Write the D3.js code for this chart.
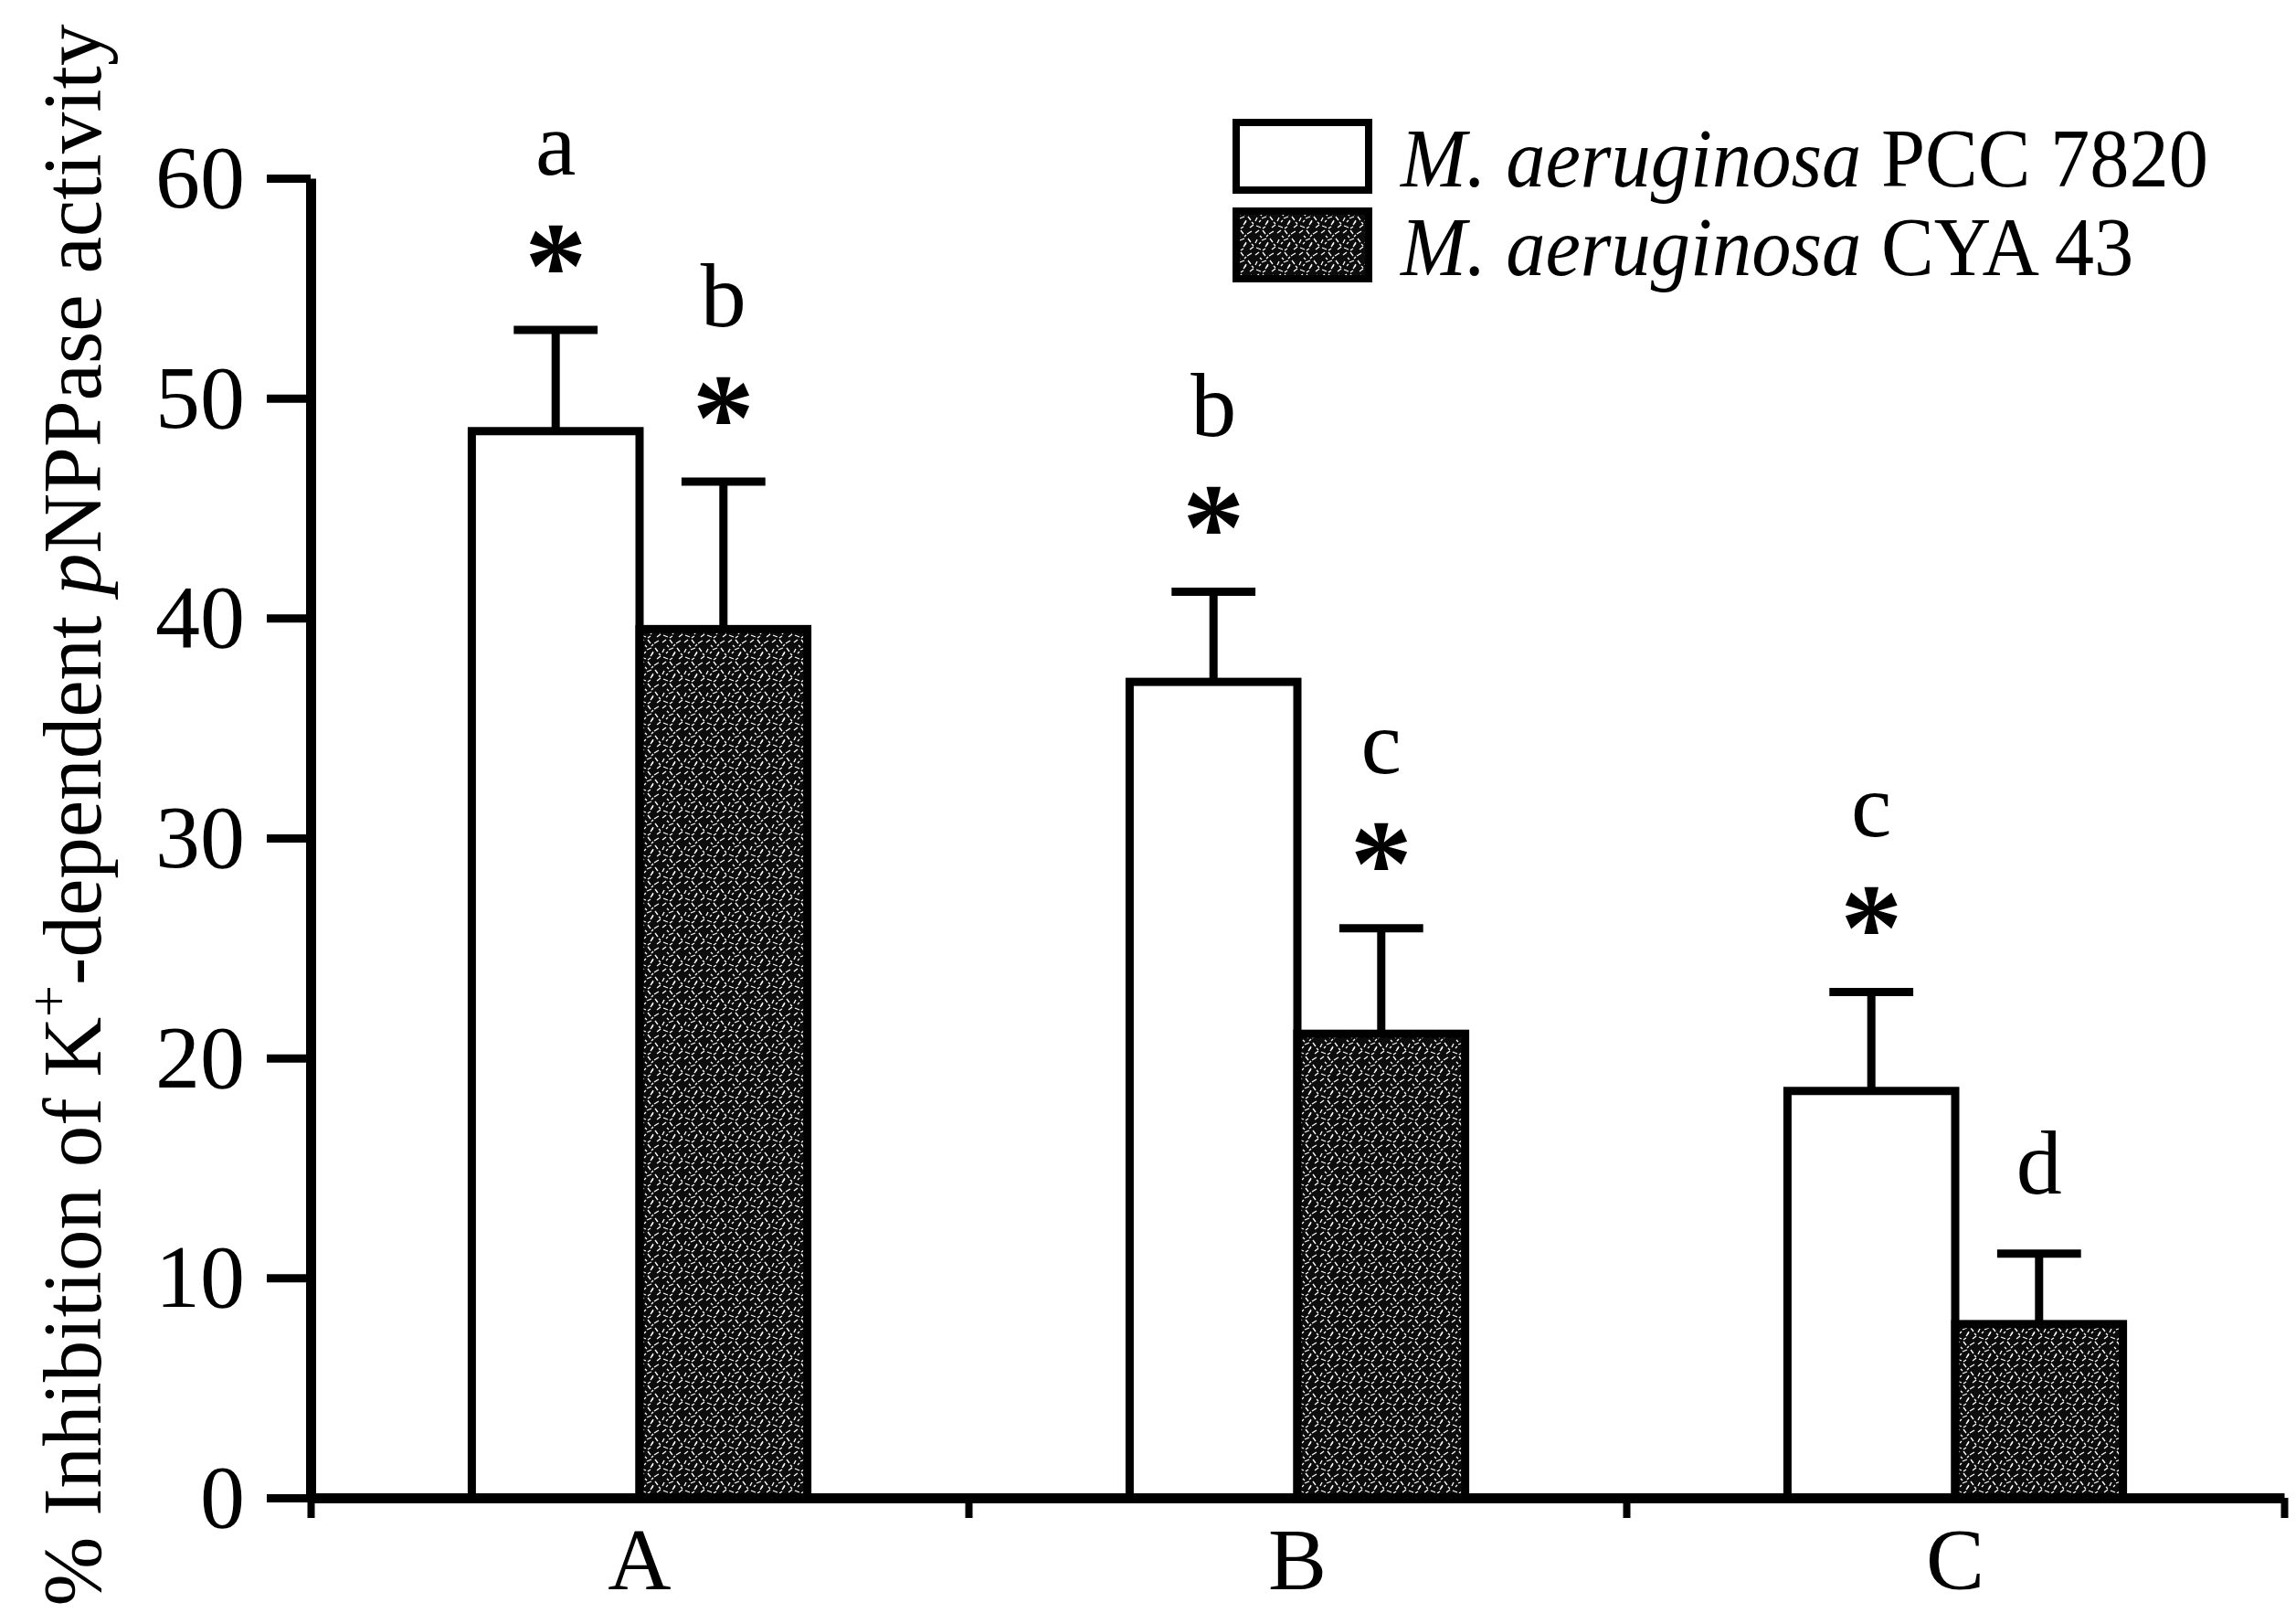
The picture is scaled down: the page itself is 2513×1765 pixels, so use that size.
<!DOCTYPE html>
<html>
<head>
<meta charset="utf-8">
<script src="https://cdn.jsdelivr.net/npm/d3@7"></script>
<style>
    body { margin: 0; background: #fff; }
    svg { display: block; }
    text { font-family: "Liberation Serif", "Times New Roman", serif; fill: #000; }
    .axis .domain, .axis line { stroke: #000; }
</style>
</head>
<body>
<div class="graph"></div>
<script>
// values
var groups = ["A", "B", "C"];
var seriesNames = ["PCC 7820", "CYA 43"];
var pccValues = [48.5, 37.1, 18.5];
var pccErrors = [4.6, 4.1, 4.5];
var cyaValues = [39.5, 21.1, 7.9];
var cyaErrors = [6.7, 4.8, 3.2];
var pccLetters = ["a", "b", "c"];
var cyaLetters = ["b", "c", "d"];
var pccStars = [true, true, true];
var cyaStars = [true, true, false];
var yTicks = [0, 10, 20, 30, 40, 50, 60];

var margin = {top: 195, right: 13, bottom: 126, left: 340},
    W = 2513, H = 1765,
    width = W - margin.left - margin.right,
    height = H - margin.top - margin.bottom;

var root = d3.select(".graph").append("svg")
    .attr("width", W)
    .attr("height", H);

root.append("rect").attr("width", W).attr("height", H).attr("fill", "#fff");

// speckled dark fill used for the CYA 43 bars
var defs = root.append("defs");
var pat = defs.append("pattern")
    .attr("id", "speckle")
    .attr("patternUnits", "userSpaceOnUse")
    .attr("width", 24).attr("height", 24);
pat.append("rect").attr("width", 24).attr("height", 24).attr("fill", "#0c0c0c");
pat.append("path")
    .attr("d", "M1,4l4,-3M9,1l3,4M16,5l5,-3M3,11l-2,4M8,12l5,-2M17,10l3,4M2,20l5,2M12,19l3,-4M19,22l4,-3M6,7l2,2M13,8l2,-2M21,16l2,2M9,23l3,-2M15,14l-2,3M5,16l2,-2")
    .attr("stroke", "#fff")
    .attr("stroke-width", 1.3)
    .attr("fill", "none");

var svg = root.append("g")
    .attr("transform", "translate(" + margin.left + "," + margin.top + ")");

var x = d3.scaleBand().domain(groups).range([0, width]).padding(0);
var barW = x.bandwidth() * 0.255;
var xs = d3.scaleBand().domain(seriesNames)
    .range([x.bandwidth() / 2 - barW, x.bandwidth() / 2 + barW]);
var y = d3.scaleLinear().domain([0, 60]).range([height, 0]);

var rows = [];
groups.forEach(function(g, i) {
    rows.push({group: g, series: seriesNames[0], value: pccValues[i], err: pccErrors[i],
               letter: pccLetters[i], star: pccStars[i]});
    rows.push({group: g, series: seriesNames[1], value: cyaValues[i], err: cyaErrors[i],
               letter: cyaLetters[i], star: cyaStars[i]});
});

function fillFor(s) { return s === seriesNames[0] ? "#fff" : "url(#speckle)"; }

var bar = svg.selectAll(".bar")
    .data(rows)
    .enter().append("g")
    .attr("class", "bar")
    .attr("transform", function(d) { return "translate(" + (x(d.group) + xs(d.series)) + ",0)"; });

// error bars (upper only)
bar.append("line")
    .attr("x1", xs.bandwidth() / 2).attr("x2", xs.bandwidth() / 2)
    .attr("y1", function(d) { return y(d.value); })
    .attr("y2", function(d) { return y(d.value + d.err); })
    .attr("stroke", "#000").attr("stroke-width", 9);
bar.append("line")
    .attr("x1", xs.bandwidth() / 2 - xs.bandwidth() * 0.25)
    .attr("x2", xs.bandwidth() / 2 + xs.bandwidth() * 0.25)
    .attr("y1", function(d) { return y(d.value + d.err); })
    .attr("y2", function(d) { return y(d.value + d.err); })
    .attr("stroke", "#000").attr("stroke-width", 9);

bar.append("rect")
    .attr("x", 0)
    .attr("y", function(d) { return y(d.value); })
    .attr("width", xs.bandwidth())
    .attr("height", function(d) { return height - y(d.value); })
    .attr("fill", function(d) { return fillFor(d.series); })
    .attr("stroke", "#000")
    .attr("stroke-width", 9);

// significance marks
var starSize = 136;
bar.filter(function(d) { return d.star; }).append("text")
    .attr("x", xs.bandwidth() / 2)
    .attr("y", function(d) { return y(d.value + d.err) - 88 + starSize * 0.46; })
    .attr("text-anchor", "middle")
    .attr("font-size", starSize)
    .attr("font-weight", "bold")
    .text("*");

bar.append("text")
    .attr("x", xs.bandwidth() / 2)
    .attr("y", function(d) { return y(d.value + d.err) - (d.star ? 170 : 66); })
    .attr("text-anchor", "middle")
    .attr("font-size", 100)
    .text(function(d) { return d.letter; });

// axes
var yAxis = svg.append("g")
    .attr("class", "axis y")
    .call(d3.axisLeft(y).tickValues(yTicks).tickSize(48).tickSizeOuter(0).tickPadding(24));
yAxis.select(".domain").attr("stroke-width", 11);
yAxis.selectAll("line").attr("stroke-width", 9);
yAxis.selectAll("text").attr("font-size", 98).attr("font-family", null);

var bounds = d3.scaleLinear().domain([0, groups.length]).range([0, width]);
var xAxis = svg.append("g")
    .attr("class", "axis x")
    .attr("transform", "translate(0," + height + ")")
    .call(d3.axisBottom(bounds).tickValues(d3.range(groups.length + 1)).tickFormat("")
        .tickSize(22).tickSizeOuter(0));
xAxis.select(".domain").attr("stroke-width", 11);
xAxis.selectAll("line").attr("stroke-width", 8);

var xLabels = svg.append("g")
    .attr("class", "axis labels")
    .attr("transform", "translate(0," + height + ")")
    .call(d3.axisBottom(x).tickSize(0).tickPadding(32));
xLabels.select(".domain").remove();
xLabels.selectAll("text").attr("font-size", 96).attr("font-family", null);

// y axis title
var yTitle = root.append("text")
    .attr("transform", "translate(110," + 892 + ")rotate(-90)")
    .attr("text-anchor", "middle")
    .attr("font-size", 91);
yTitle.append("tspan").text("% Inhibition of K");
yTitle.append("tspan").attr("font-size", 62).attr("dy", -36).text("+");
yTitle.append("tspan").attr("dy", 36).text("-dependent ");
yTitle.append("tspan").attr("font-style", "italic").text("p");
yTitle.append("tspan").text("NPPase activity");

// legend
var legend = root.append("g")
    .attr("transform", "translate(1349,130)");
var item = legend.selectAll(".item")
    .data(seriesNames)
    .enter().append("g")
    .attr("class", "item")
    .attr("transform", function(d, i) { return "translate(0," + (i * 97) + ")"; });
item.append("rect")
    .attr("x", 4).attr("y", 4)
    .attr("width", 145).attr("height", 74)
    .attr("fill", fillFor)
    .attr("stroke", "#000")
    .attr("stroke-width", 8);
var itemText = item.append("text")
    .attr("transform", "translate(184,74) scale(0.94,1)")
    .attr("font-size", 92);
itemText.append("tspan").attr("font-style", "italic").text("M. aeruginosa");
itemText.append("tspan").text(function(d) { return " " + d; });
</script>
</body>
</html>
